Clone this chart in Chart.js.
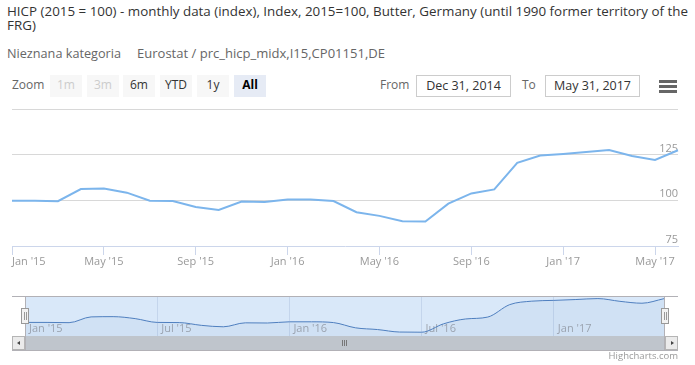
<!DOCTYPE html>
<html>
<head>
<meta charset="utf-8">
<script src="https://cdn.jsdelivr.net/npm/chart.js@4.4.1/dist/chart.umd.min.js"></script>
<style>
  html, body { margin: 0; padding: 0; background: #fff; }
  body { width: 695px; height: 365px; position: relative; overflow: hidden; font-family: "Open Sans", "DejaVu Sans", sans-serif; }
  .abs { position: absolute; white-space: nowrap; }
  .fit { transform-origin: 0 0; }
  .title { font-size: 12px; line-height: 14px; color: #333; }
  .sub { font-size: 12px; line-height: 14px; color: #666; }
  .lbl { font-size: 12px; line-height: 14px; color: #666; }
  .btn { top: 75px; width: 32px; height: 22px; line-height: 20px; text-align: center; font-size: 12px; background: #f7f7f7; color: #333; }
  .btn.off { color: #ccc; }
  .btn.on { background: #e6ebf5; font-weight: bold; color: #000; }
  .date { top: 75px; height: 22px; box-sizing: border-box; border: 1px solid #ccc; line-height: 20px; text-align: center; font-size: 12.5px; color: #333; }
  .bar { left: 659px; width: 18px; height: 3px; background: #666; }
  .line { background: #b2b1b6; }
  .handle { top: 308px; width: 8px; height: 16px; box-sizing: border-box; border: 1px solid #999; background: #f2f2f2; }
  .handle i { position: absolute; top: 3px; width: 1px; height: 8px; background: #999; }
  .sbtn { top: 336px; width: 13px; height: 14px; box-sizing: border-box; border: 1px solid #b5b5b5; background: #ebebeb; }
  .grip { top: 340px; width: 1px; height: 6px; background: #777; }
  canvas { position: absolute; }
</style>
</head>
<body>
  <div id="t1" class="abs title fit" style="left:7px; top:5px;">HICP (2015 = 100) - monthly data (index), Index, 2015=100, Butter, Germany (until 1990 former territory of the</div>
  <div id="t2" class="abs title fit" style="left:7px; top:19px;">FRG)</div>
  <div id="s1" class="abs sub fit" style="left:7px; top:47px;">Nieznana kategoria</div>
  <div id="s2" class="abs sub fit" style="left:137px; top:47px;">Eurostat / prc_hicp_midx,I15,CP01151,DE</div>

  <div class="abs lbl" style="left:12px; top:78px;">Zoom</div>
  <div class="abs btn off" style="left:50px;">1m</div>
  <div class="abs btn off" style="left:87px;">3m</div>
  <div class="abs btn" style="left:123px;">6m</div>
  <div class="abs btn" style="left:160px;">YTD</div>
  <div class="abs btn" style="left:197px;">1y</div>
  <div class="abs btn on" style="left:234px;">All</div>

  <div class="abs lbl" style="left:380px; top:78px;">From</div>
  <div class="abs date" style="left:416px; width:95px;">Dec 31, 2014</div>
  <div class="abs lbl" style="left:522px; top:78px;">To</div>
  <div class="abs date" style="left:545px; width:95px;">May 31, 2017</div>
  <div class="abs bar" style="top:80px;"></div>
  <div class="abs bar" style="top:85px;"></div>
  <div class="abs bar" style="top:90px;"></div>

  <canvas id="main" width="695" height="175" style="left:0; top:100px;"></canvas>
  <canvas id="nav" width="695" height="50" style="left:0; top:290px;"></canvas>

  <!-- navigator outline, handles and scrollbar -->
  <div class="abs line" style="left:12px; top:296px; width:666px; height:1px;"></div>
  <div class="abs" style="left:25px; top:336px; width:639px; height:14px; background:#bfc5cc;"></div>
  <div class="abs line" style="left:12px; top:350px; width:666px; height:1px;"></div>
  <div class="abs line" style="left:25px; top:296px; width:1px; height:54px;"></div>
  <div class="abs line" style="left:664px; top:296px; width:1px; height:54px;"></div>
  <div class="abs sbtn" style="left:12px;"><div class="abs" style="left:4px; top:4px; width:0; height:0; border-top:2.5px solid transparent; border-bottom:2.5px solid transparent; border-right:3px solid #444;"></div></div>
  <div class="abs sbtn" style="left:665px;"><div class="abs" style="left:5px; top:4px; width:0; height:0; border-top:2.5px solid transparent; border-bottom:2.5px solid transparent; border-left:3px solid #444;"></div></div>
  <div class="abs grip" style="left:342px;"></div>
  <div class="abs grip" style="left:344px;"></div>
  <div class="abs grip" style="left:346px;"></div>
  <div class="abs handle" style="left:21px;"><i style="left:2px;"></i><i style="left:4px;"></i></div>
  <div class="abs handle" style="left:661px;"><i style="left:2px;"></i><i style="left:4px;"></i></div>

  <div class="abs" style="right:17px; top:351px; font-size:9.5px; line-height:10px; color:#999;">Highcharts.com</div>

<script>
// monthly index values (2015 = 100), butter, Germany
const months = [
  "Jan '15", "Feb '15", "Mar '15", "Apr '15", "May '15", "Jun '15",
  "Jul '15", "Aug '15", "Sep '15", "Oct '15", "Nov '15", "Dec '15",
  "Jan '16", "Feb '16", "Mar '16", "Apr '16", "May '16", "Jun '16",
  "Jul '16", "Aug '16", "Sep '16", "Oct '16", "Nov '16", "Dec '16",
  "Jan '17", "Feb '17", "Mar '17", "Apr '17", "May '17", "Jun '17"
];
const hicp = [
  99.8, 99.8, 99.5, 106.2, 106.5, 104.2,
  99.8, 99.6, 96.4, 94.7, 99.3, 99.1,
  100.5, 100.5, 99.6, 93.5, 91.5, 88.6,
  88.4, 98.2, 103.8, 106.0, 120.5, 124.5,
  125.4, 126.4, 127.5, 124.3, 122.1, 127.4
];
const mainTicks = ["Jan '15", "May '15", "Sep '15", "Jan '16", "May '16", "Sep '16", "Jan '17", "May '17"];
const navTicks = ["Jan '15", "Jul '15", "Jan '16", "Jul '16", "Jan '17"];
const yTicks = [75, 100, 125, 150];

Chart.defaults.font.family = "'Open Sans', 'DejaVu Sans', sans-serif";

const clear = 'rgba(0,0,0,0)';

new Chart(document.getElementById('main'), {
    type: 'line',
    data: {
        labels: months,
        datasets: [{
            data: hicp,
            borderColor: '#7cb5ec',
            borderWidth: 2,
            pointRadius: 0,
            tension: 0,
            fill: false
        }]
    },
    options: {
        responsive: false,
        animation: false,
        events: [],
        layout: { padding: { left: 12, right: 17, top: 9, bottom: 0 } },
        plugins: { legend: { display: false }, tooltip: { enabled: false } },
        scales: {
            x: {
                offset: false,
                border: { color: '#ccd6eb' },
                grid: {
                    drawOnChartArea: false,
                    tickLength: 9,
                    color: ctx => mainTicks.includes(months[ctx.index]) ? '#ccd6eb' : clear
                },
                ticks: {
                    autoSkip: false,
                    maxRotation: 0,
                    align: 'inner',
                    padding: 0,
                    color: '#999',
                    font: { size: 11 },
                    callback: (v, i) => mainTicks.includes(months[i]) ? months[i] : ''
                },
                afterFit: s => { s.height = 29; s.paddingLeft = 0; s.paddingRight = 0; }
            },
            y: {
                position: 'right',
                min: 75,
                max: 150,
                afterBuildTicks: s => { s.ticks = yTicks.map(v => ({ value: v })); },
                border: { display: false },
                grid: {
                    drawTicks: false,
                    color: ctx => (ctx.tick && ctx.tick.value === 75) ? clear : '#d8d8d8'
                },
                ticks: {
                    mirror: true,
                    padding: 0,
                    labelOffset: -6,
                    color: '#999',
                    font: { size: 11 },
                    callback: v => v === 150 ? '' : v
                },
                afterFit: s => { s.width = 0; s.paddingTop = 0; s.paddingBottom = 0; }
            }
        }
    }
});

// navigator: mask fill under the series
const navMask = {
    id: 'navMask',
    beforeDraw(chart) {
        const a = chart.chartArea;
        const ctx = chart.ctx;
        ctx.save();
        ctx.fillStyle = 'rgba(128,179,236,0.3)';
        ctx.fillRect(a.left, a.top, a.right - a.left, a.bottom - a.top);
        ctx.restore();
    }
};

new Chart(document.getElementById('nav'), {
    type: 'line',
    data: {
        labels: months,
        datasets: [{
            data: hicp,
            borderColor: '#4f7fbf',
            borderWidth: 1,
            pointRadius: 0,
            cubicInterpolationMode: 'monotone',
            fill: 'start',
            backgroundColor: 'rgba(69,114,167,0.06)'
        }]
    },
    options: {
        responsive: false,
        animation: false,
        events: [],
        layout: { padding: { left: 25, right: 31, top: 6, bottom: 4 } },
        plugins: { legend: { display: false }, tooltip: { enabled: false } },
        scales: {
            x: {
                offset: false,
                border: { display: false },
                grid: {
                    drawTicks: false,
                    color: ctx => navTicks.includes(months[ctx.index]) && ctx.index > 0 ? '#c4d5ec' : clear
                },
                ticks: {
                    autoSkip: false,
                    maxRotation: 0,
                    mirror: true,
                    align: 'start',
                    padding: 0.5,
                    labelOffset: 4,
                    color: '#a0a6b0',
                    font: { size: 11 },
                    callback: (v, i) => navTicks.includes(months[i]) ? months[i] : ''
                },
                afterFit: s => { s.height = 0; s.paddingLeft = 0; s.paddingRight = 0; }
            },
            y: { display: false, min: 84, max: 130.5 }
        }
    },
    plugins: [navMask]
});

// squeeze header texts to the widths they have in the picture
function fitText(id, width) {
    const el = document.getElementById(id);
    el.style.transform = 'none';
    const w = el.getBoundingClientRect().width;
    el.style.transform = 'scaleX(' + (width / w) + ')';
    return width / w;
}
function fitAll() {
    const k = fitText('t1', 681);
    document.getElementById('t2').style.transform = 'scaleX(' + k + ')';
    fitText('s1', 114);
    fitText('s2', 248);
}
fitAll();
if (document.fonts) document.fonts.ready.then(fitAll);
</script>
</body>
</html>
